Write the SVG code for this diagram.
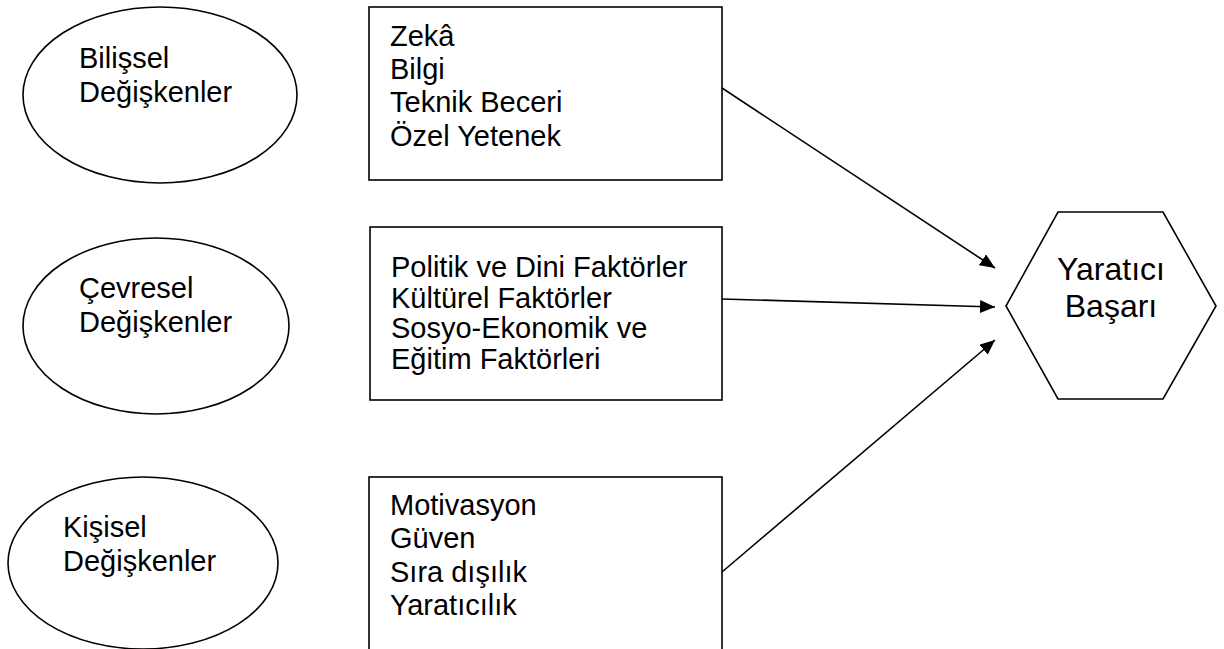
<svg xmlns="http://www.w3.org/2000/svg" width="1224" height="649" viewBox="0 0 1224 649">
<style>
.shape{fill:#fff;stroke:#000;stroke-width:1.6}
.t{font-family:"Liberation Sans",Arial,sans-serif;font-size:29px;fill:#000}
.h{font-family:"Liberation Sans",Arial,sans-serif;font-size:32px;fill:#000}
.conn{stroke:#000;stroke-width:1.6;fill:none}
</style>
<defs>
<marker id="arr" markerUnits="userSpaceOnUse" markerWidth="16" markerHeight="13" refX="15" refY="6.5" orient="auto">
<path d="M0,0 L15,6.5 L0,13 z" fill="#000"/>
</marker>
</defs>
<rect width="1224" height="649" fill="#fff"/>
<g id="ellipse-bilissel">
<ellipse class="shape" cx="160" cy="95" rx="137" ry="88"/>
<text class="t" x="79" y="68">Bilişsel</text>
<text class="t" x="79" y="102">Değişkenler</text>
</g>
<g id="ellipse-cevresel">
<ellipse class="shape" cx="156" cy="326" rx="133" ry="88"/>
<text class="t" x="79" y="298">Çevresel</text>
<text class="t" x="79" y="332">Değişkenler</text>
</g>
<g id="ellipse-kisisel">
<ellipse class="shape" cx="143" cy="563" rx="135" ry="86"/>
<text class="t" x="63" y="537">Kişisel</text>
<text class="t" x="63" y="571">Değişkenler</text>
</g>
<g id="box-bilissel">
<rect class="shape" x="369" y="7" width="353" height="173"/>
<text class="t" x="390" y="46">Zekâ</text>
<text class="t" x="390" y="79">Bilgi</text>
<text class="t" x="390" y="112">Teknik Beceri</text>
<text class="t" x="390" y="146">Özel Yetenek</text>
</g>
<g id="box-cevresel">
<rect class="shape" x="370" y="227" width="352" height="173"/>
<text class="t" x="391" y="277">Politik ve Dini Faktörler</text>
<text class="t" x="391" y="308">Kültürel Faktörler</text>
<text class="t" x="391" y="338">Sosyo-Ekonomik ve</text>
<text class="t" x="391" y="369">Eğitim Faktörleri</text>
</g>
<g id="box-kisisel">
<rect class="shape" x="369" y="477" width="353" height="180"/>
<text class="t" x="390" y="515">Motivasyon</text>
<text class="t" x="390" y="548">Güven</text>
<text class="t" x="390" y="582">Sıra dışılık</text>
<text class="t" x="390" y="615">Yaratıcılık</text>
</g>
<g id="hex-yaratici">
<polygon class="shape" points="1006,306 1058,212 1163,212 1216,306 1163,399 1058,399"/>
<text class="h" x="1111" y="280" text-anchor="middle">Yaratıcı</text>
<text class="h" x="1111" y="317" text-anchor="middle">Başarı</text>
</g>
<g id="connectors">
<line class="conn" x1="722" y1="88" x2="995" y2="268" marker-end="url(#arr)"/>
<line class="conn" x1="722" y1="299" x2="995" y2="307" marker-end="url(#arr)"/>
<line class="conn" x1="722" y1="572" x2="995" y2="340" marker-end="url(#arr)"/>
</g>
</svg>
